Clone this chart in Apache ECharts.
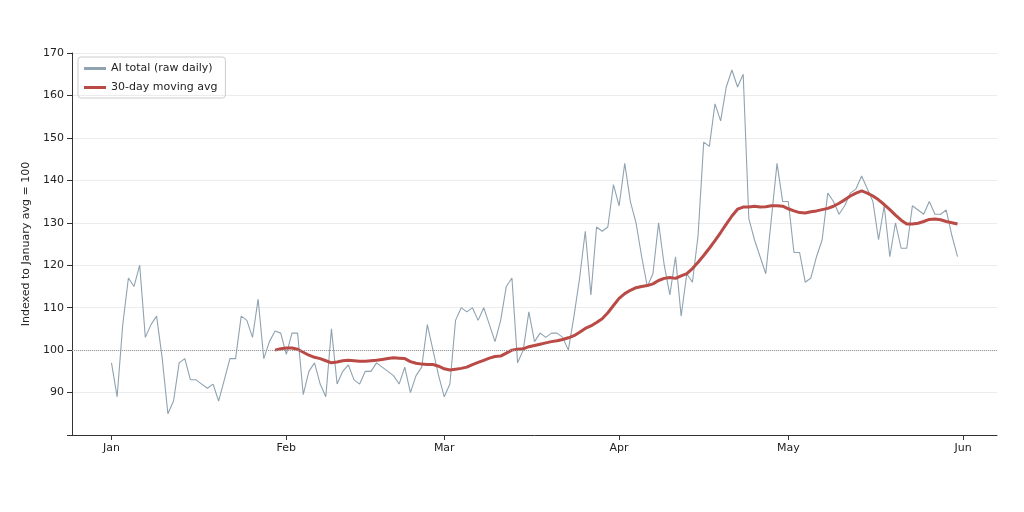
<!DOCTYPE html>
<html><head><meta charset="utf-8">
<script src="https://cdn.jsdelivr.net/npm/echarts@6/dist/echarts.min.js"></script>
<style>html,body{margin:0;background:#fff}#c{width:1024px;height:512px}</style>
</head><body><div id="c"></div>
<script>
const rawJan = [97,89,106,117,115,120,103,106,108,98,85,88,97,98,93,93,92,91,92,88,93,98,98,108,107,103,112,98,102,104.5,104];
const rawFeb = [99,104,104,89.5,95,97,92,89,105,92,95,96.5,93,92,95,95,97,96,95,94,92,96,90,94,96,106,100,94];
const rawMar = [89,92,107,110,109,110,107,110,106,102,107,115,117,97,100,109,102,104,103,104,104,103,100,108,117,128,113,129,128,129,139];
const rawApr = [134,144,135,130,122,115,118,130,120,113,122,108,118,116,127,149,148,158,154,162,166,162,165,131,126,122,118,131,144,135];
const rawMay = [135,123,123,116,117,122,126,137,135,132,134,137,138,141,138,135,126,134,122,130,124,124,134,133,132,135,132,132,133,127,122];
// 30-day moving average, from Jan 30 to May 31
const maValues = [100,100.3,100.5,100.5,100.2,99.5,98.8,98.3,98,97.5,97,97.2,97.5,97.6,97.5,97.4,97.4,97.5,97.6,97.8,98,98.2,98.1,98,97.3,96.9,96.7,96.6,96.6,96.2,
95.6,95.3,95.5,95.7,96,96.6,97.1,97.6,98.1,98.5,98.6,99.3,100,100.2,100.3,100.8,101.1,101.4,101.7,102,102.2,102.5,102.9,103.4,104.2,105.1,105.7,106.5,107.4,108.8,110.5,
112.2,113.3,114.1,114.7,115,115.2,115.6,116.4,116.9,117.1,116.9,117.5,118,119.2,120.7,122.3,124,125.8,127.7,129.7,131.6,133.2,133.7,133.7,133.9,133.7,133.8,134,134,133.9,
133.3,132.8,132.4,132.3,132.6,132.8,133.1,133.4,133.9,134.6,135.4,136.3,137,137.5,137,136.3,135.4,134.3,133.1,131.8,130.6,129.7,129.7,129.9,130.3,130.8,130.9,130.7,130.3,130,129.7];
const monthLabels = ['Jan','Feb','Mar','Apr','May','Jun'];
const padBefore = 7, padAfter = 7;

const raw = [].concat(rawJan, rawFeb, rawMar, rawApr, rawMay);
const n = padBefore + raw.length + padAfter;
const cats = [];
const start = Date.UTC(2024, 11, 25);
for (let i = 0; i < n; i++) {
  const d = new Date(start + i * 86400000);
  cats.push(d.getUTCDate() === 1 ? monthLabels[(d.getUTCMonth()) % 12] : '');
}
const rawSeries = new Array(n).fill(null);
raw.forEach((v, i) => rawSeries[padBefore + i] = v);
const maSeries = new Array(n).fill(null);
const maStart = padBefore + raw.length - maValues.length;
maValues.forEach((v, i) => maSeries[maStart + i] = v);
const isMonth = (i) => cats[i] !== '';

const chart = echarts.init(document.getElementById('c'));
chart.setOption({
  animation: false,
  textStyle: { fontFamily: 'DejaVu Sans' },
  grid: { left: 72, right: 27, top: 53, bottom: 77 },
  legend: {
    left: 78, top: 57, orient: 'vertical', itemGap: 8,
    borderColor: '#cccccc', borderWidth: 1, borderRadius: 3, padding: [6, 8, 5, 6],
    itemWidth: 22, itemHeight: 3,
    textStyle: { fontSize: 11, color: '#222' },
    data: [
      { name: 'AI total (raw daily)', icon: 'rect', itemStyle: { color: '#8fa3b1' } },
      { name: '30-day moving avg', icon: 'rect', itemStyle: { color: '#b94a45' } }
    ]
  },
  xAxis: {
    type: 'category', data: cats, boundaryGap: false,
    axisLine: { lineStyle: { color: '#333' } },
    axisTick: { interval: (i) => isMonth(i), lineStyle: { color: '#333' } },
    axisLabel: { interval: (i) => isMonth(i), color: '#222', fontSize: 11 },
    splitLine: { show: false }
  },
  yAxis: {
    type: 'value', min: 80, max: 170, interval: 10,
    name: 'Indexed to January avg = 100', nameLocation: 'middle', nameGap: 36,
    nameTextStyle: { fontSize: 11, color: '#222' },
    axisLine: { show: true, lineStyle: { color: '#333' } },
    axisTick: { show: true, lineStyle: { color: '#333' } },
    axisLabel: { color: '#222', fontSize: 11, formatter: (v) => v === 80 ? '' : v },
    splitLine: { lineStyle: { color: '#ececec' } }
  },
  series: [
    { name: 'AI total (raw daily)', type: 'line', data: rawSeries, showSymbol: false,
      lineStyle: { color: '#8fa3b1', width: 1.1 }, itemStyle: { color: '#8fa3b1' },
      markLine: { silent: true, symbol: 'none', label: { show: false },
        lineStyle: { color: '#999', type: 'dotted', width: 1 }, data: [{ yAxis: 100 }] } },
    { name: '30-day moving avg', type: 'line', data: maSeries, showSymbol: false,
      lineStyle: { color: '#b94a45', width: 3 }, itemStyle: { color: '#b94a45' } }
  ]
});
</script></body></html>
